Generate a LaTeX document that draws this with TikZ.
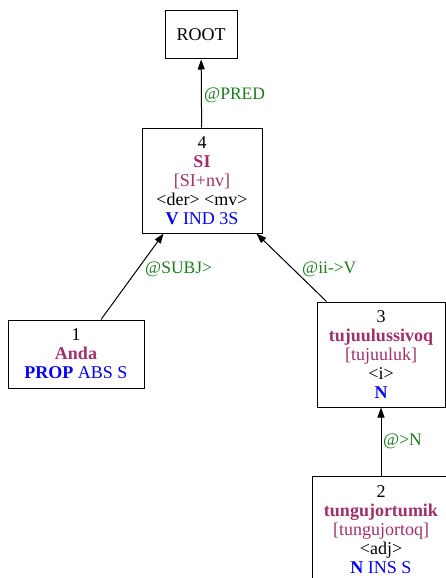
\documentclass[tikz,border=0pt]{standalone}
\usepackage{fontspec}
\setmainfont{Liberation Serif}
\usetikzlibrary{arrows.meta}
\definecolor{lem}{HTML}{A0306A}
\definecolor{pos}{HTML}{0000FF}
\definecolor{lab}{HTML}{1F7A1F}
\tikzset{
  tok/.style={draw=black, line width=1pt, inner sep=0pt, align=center,
    font=\fontsize{18}{19}\selectfont},
  lbl/.style={anchor=west, text=lab, inner sep=0pt, font=\fontsize{17.5}{19}\selectfont},
  edge/.style={line width=1pt, -{Triangle[length=10pt,width=7pt]}}
}
\newcommand{\lm}[1]{\textcolor{lem}{\textbf{#1}}}
\newcommand{\lb}[1]{\textcolor{lem}{#1}}
\newcommand{\ps}[1]{\textcolor{pos}{\textbf{#1}}}
\newcommand{\tg}[1]{\textcolor{pos}{#1}}
\begin{document}
\begin{tikzpicture}[x=1pt,y=-1pt]
\useasboundingbox (0,0) rectangle (446,578);
\clip (0,0) rectangle (446,578);
\node[tok, minimum width=72pt, minimum height=48pt] (root) at (201,35) {ROOT};
\node[tok, minimum width=120pt, minimum height=105pt] (n4) at (202,180.5)
  {4\\\lm{SI}\\\lb{[SI+nv]}\\<der> <mv>\\\ps{V} \tg{IND 3S}};
\node[tok, minimum width=136pt, minimum height=68pt] (n1) at (76,354)
  {1\\\lm{Anda}\\\ps{PROP} \tg{ABS S}};
\node[tok, minimum width=128pt, minimum height=105pt] (n3) at (381,354.5)
  {3\\\lm{tujuulussivoq}\\\lb{[tujuuluk]}\\<i>\\\ps{N}};
\node[tok, minimum width=138pt, minimum height=108pt] (n2) at (381,530)
  {2\\\lm{tungujortumik}\\\lb{[tungujortoq]}\\<adj>\\\ps{N} \tg{INS S}};
\draw[edge] (n4) -- (root);
\draw[edge] (n1) -- (n4);
\draw[edge] (n3) -- (n4);
\draw[edge] (n2) -- (n3);
\node[lbl] (lpred) at (204,95) {@PRED};
\node[lbl] (lsubj) at (145,269) {@SUBJ>};
\node[lbl] (lii) at (302,269) {@ii->V};
\node[lbl] (ln) at (383,441) {@>N};
\end{tikzpicture}
\end{document}
